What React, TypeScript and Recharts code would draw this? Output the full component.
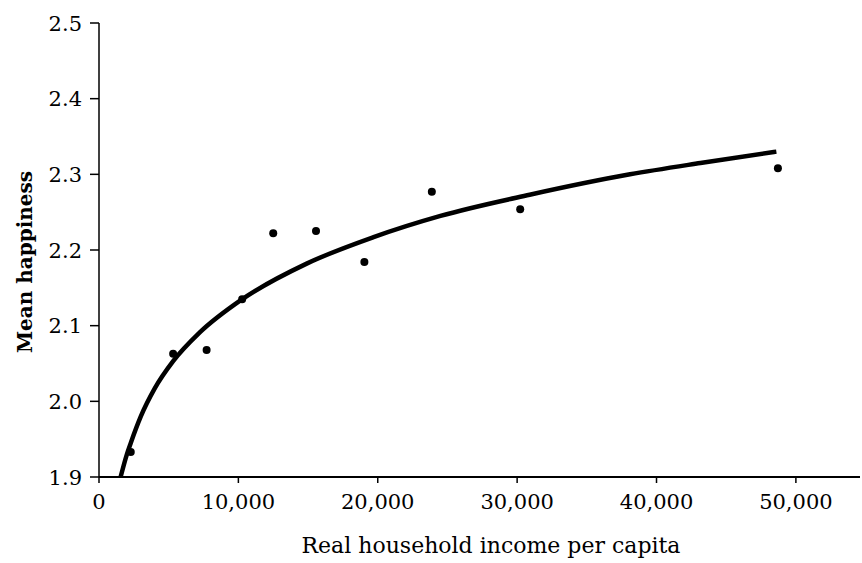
import React from "react";
import { ComposedChart, Line, Scatter, XAxis, YAxis } from "recharts";

// observed points (income, mean happiness)
const incomes = [2280, 5320, 7720, 10270, 12500, 15570, 19040, 23880, 30220, 48710];
const happiness = [1.933, 2.063, 2.068, 2.135, 2.222, 2.225, 2.184, 2.277, 2.254, 2.308];

// fitted curve
const curveIncome = [1550, 2000, 2280, 3000, 4000, 5320, 7230, 10200, 14900, 19700, 24500, 30900, 38100, 43150, 48600];
const curveHappiness = [1.9, 1.93, 1.945, 1.98, 2.017, 2.053, 2.091, 2.134, 2.182, 2.217, 2.245, 2.273, 2.3, 2.315, 2.33];

const xTicks = [0, 10000, 20000, 30000, 40000, 50000];
const yTicks = [1.9, 2.0, 2.1, 2.2, 2.3, 2.4, 2.5];

const points = incomes.map((x, i) => ({ x, y: happiness[i] }));
const curve = curveIncome.map((x, i) => ({ x, y: curveHappiness[i] }));

const FONT = "'DejaVu Serif', serif";

const XTick = (p: any) => (
  <text x={p.x} y={p.y} dy={16} textAnchor="middle" fill="#000" fontSize={21} fontFamily={FONT}>
    {Number(p.payload.value).toLocaleString("en-US")}
  </text>
);

const YTick = (p: any) => (
  <text x={p.x} y={p.y} dy={7.5} textAnchor="end" fill="#000" fontSize={21} fontFamily={FONT}>
    {Number(p.payload.value).toFixed(1)}
  </text>
);

const XTitle = () => (
  <text x={491} y={553} textAnchor="middle" fill="#000" fontSize={22} fontFamily={FONT}>
    Real household income per capita
  </text>
);

const YTitle = () => (
  <text
    x={32}
    y={262}
    transform="rotate(-90 32 262)"
    textAnchor="middle"
    fill="#000"
    fontSize={20}
    fontWeight="bold"
    fontFamily={FONT}
  >
    Mean happiness
  </text>
);

export default function App() {
  return (
    <div style={{ position: "absolute", left: 0, top: 0, background: "#fff" }}>
      <ComposedChart
        width={862}
        height={563}
        margin={{ top: 23, right: 2, bottom: 56, left: 0 }}
      >
        <XAxis
          dataKey="x"
          type="number"
          domain={[0, 54600]}
          ticks={xTicks}
          allowDataOverflow
          tick={<XTick />}
          axisLine={{ stroke: "#000", strokeWidth: 2 }}
          tickLine={{ stroke: "#000", strokeWidth: 1.5 }}
          tickSize={6}
          tickMargin={10}
          height={30}
          label={{ content: <XTitle /> }}
        />
        <YAxis
          dataKey="y"
          type="number"
          domain={[1.9, 2.5]}
          ticks={yTicks}
          allowDataOverflow
          width={99}
          tick={<YTick />}
          axisLine={{ stroke: "#000", strokeWidth: 1.5 }}
          tickLine={{ stroke: "#000", strokeWidth: 1.5 }}
          tickSize={9}
          tickMargin={8}
          label={{ content: <YTitle /> }}
        />
        <Line
          data={curve}
          dataKey="y"
          type="monotone"
          stroke="#000"
          strokeWidth={4.5}
          dot={false}
          activeDot={false}
          isAnimationActive={false}
        />
        <Scatter
          data={points}
          dataKey="y"
          fill="#000"
          shape={(p: any) => <circle cx={p.cx} cy={p.cy} r={4} fill="#000" />}
          isAnimationActive={false}
        />
      </ComposedChart>
    </div>
  );
}
